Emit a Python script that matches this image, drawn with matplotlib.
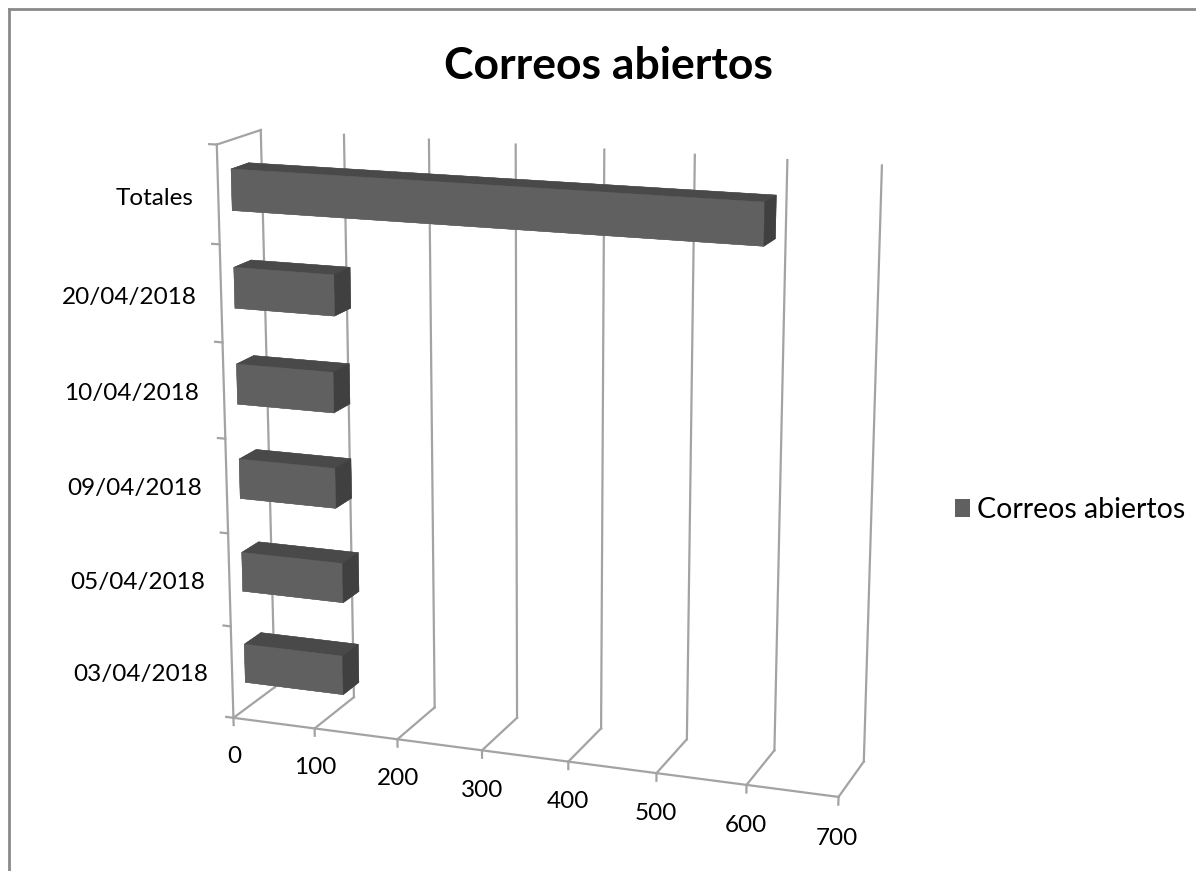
import numpy as np
import matplotlib
matplotlib.use("Agg")
import matplotlib.pyplot as plt
from matplotlib.patches import Patch
from matplotlib.lines import Line2D
from mpl_toolkits.mplot3d import proj3d

# ---- data ----
categories = ["03/04/2018", "05/04/2018", "09/04/2018", "10/04/2018", "20/04/2018", "Totales"]
values = [121, 123, 116, 116, 119, 598]
value_ticks = [0, 100, 200, 300, 400, 500, 600, 700]
series_name = "Correos abiertos"
chart_title = "Correos abiertos"

# ---- style ----
FONT = ["Lato", "DejaVu Sans"]
GRID = "#a3a3a3"
FRONT = "#606060"
TOP = "#494949"
SIDE = "#404040"

W, H = 1196, 871
fig = plt.figure(figsize=(W / 100, H / 100), dpi=100)

S = 900
cx, cy = 530, 467
ax = fig.add_axes([(cx - S / 2) / W, (H - cy - S / 2) / H, S / W, S / H],
                  projection="3d", computed_zorder=False)
ax.set_proj_type("persp", focal_length=0.6)
ax.view_init(elev=15, azim=-70)
ax.set_box_aspect((640, 100, 594), zoom=0.965)
ax.set_axis_off()

ncat = len(categories)
xmax = value_ticks[-1]
ax.set_xlim(0, xmax)
ax.set_ylim(0, 1)
ax.set_zlim(0, ncat)

# back wall and floor gridlines
for v in value_ticks:
    ax.plot([v, v], [1, 1], [0, ncat], color=GRID, lw=1.6, zorder=1)
    ax.plot([v, v], [0, 1], [0, 0], color=GRID, lw=1.6, zorder=1)
    ax.plot([v, v], [0, 0], [0, -0.08], color=GRID, lw=1.6, zorder=1)

# value axis (front floor edge) and category axis (front left edge)
ax.plot([0, xmax], [0, 0], [0, 0], color=GRID, lw=1.6, zorder=1)
ax.plot([0, 0], [0, 0], [0, ncat], color=GRID, lw=1.6, zorder=1)
ax.plot([0, 0], [0, 1], [ncat, ncat], color=GRID, lw=1.6, zorder=1)
for k in range(ncat + 1):
    ax.plot([0, -9], [0, 0], [k, k], color=GRID, lw=1.6, zorder=1)

# 3D bars
bar_h = 0.42
bar_d = 0.4
n = len(values)
zc = np.arange(n) + 0.5
# face order used by bar3d: -z, +z, -y, +y, -x, +x
face_cols = [FRONT, TOP, FRONT, FRONT, FRONT, SIDE] * n
ax.bar3d(np.zeros(n), np.full(n, 0.5 - bar_d / 2), zc - bar_h / 2,
         values, np.full(n, bar_d), np.full(n, bar_h),
         color=face_cols, shade=False, zorder=2, linewidth=0.3,
         edgecolor=face_cols)

# tick labels: anchor points projected through the 3D axes
fig.canvas.draw()
M = ax.get_proj()
to_fig = fig.transFigure.inverted()


def anchor(x, y, z):
    px, py, _ = proj3d.proj_transform(np.array([x]), np.array([y]), np.array([z]), M)
    return to_fig.transform(ax.transData.transform((px[0], py[0])))


for k, name in enumerate(categories):
    fx, fy = anchor(-30, 0, k + 0.5 - 0.055)
    fig.text(fx, fy, name, ha="right", va="center",
             fontsize=17.5, family=FONT, color="black")
for v in value_ticks:
    fx, fy = anchor(v, 0, -0.43)
    fig.text(fx, fy, str(v), ha="center", va="center",
             fontsize=17.5, family=FONT, color="black")

# title and legend
fig.text(608 / W, 1 - 66 / H, chart_title, ha="center", va="center",
         fontsize=32, fontweight="bold", family=FONT)
fig.legend(handles=[Patch(facecolor=FRONT, edgecolor="none")],
           labels=[series_name], loc="center left",
           bbox_to_anchor=(929 / W, 1 - 510 / H), frameon=False,
           handlelength=0.55, handleheight=0.55, handletextpad=0.25,
           prop={"family": FONT, "size": 20.5})

# chart frame
fig.add_artist(Line2D([8.5 / W, 1], [1 - 9.5 / H] * 2, transform=fig.transFigure,
                      color="#8a8a8a", lw=2))
fig.add_artist(Line2D([8.5 / W] * 2, [1 - 9.5 / H, 0], transform=fig.transFigure,
                      color="#8a8a8a", lw=2))

fig.savefig("out.png", dpi=100, facecolor="white")
